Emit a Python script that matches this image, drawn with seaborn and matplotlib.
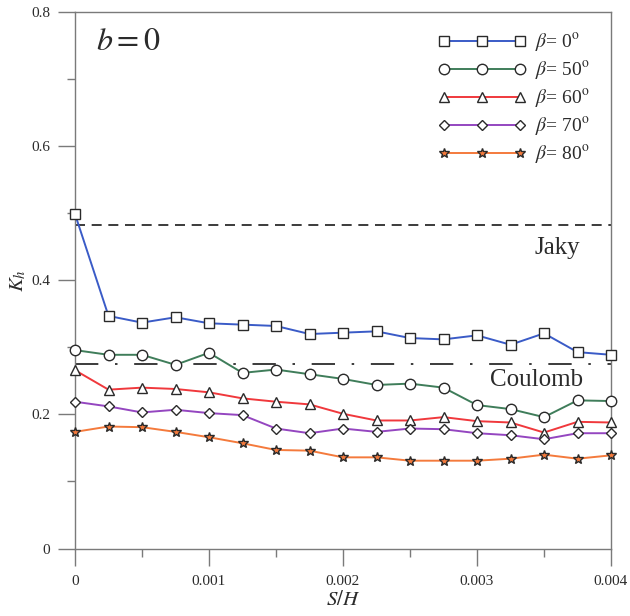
import numpy as np
import pandas as pd
import matplotlib
matplotlib.use("Agg")
import matplotlib.pyplot as plt
from matplotlib.ticker import FixedLocator, MultipleLocator
import seaborn as sns

# Normalised displacement S/H
s_over_h = [0, 0.00025, 0.0005, 0.00075, 0.001, 0.00125, 0.0015, 0.00175, 0.002,
            0.00225, 0.0025, 0.00275, 0.003, 0.00325, 0.0035, 0.00375, 0.004]

# Lateral earth pressure coefficient K_h for each wall inclination beta
kh_beta0 = [0.499, 0.347, 0.337, 0.345, 0.336, 0.334, 0.332, 0.320, 0.322,
            0.324, 0.314, 0.312, 0.318, 0.304, 0.321, 0.293, 0.289]
kh_beta50 = [0.296, 0.289, 0.289, 0.274, 0.292, 0.262, 0.267, 0.260, 0.253,
             0.244, 0.246, 0.240, 0.214, 0.208, 0.196, 0.221, 0.220]
kh_beta60 = [0.266, 0.237, 0.240, 0.238, 0.233, 0.224, 0.219, 0.215, 0.201,
             0.191, 0.191, 0.196, 0.190, 0.188, 0.173, 0.189, 0.188]
kh_beta70 = [0.219, 0.212, 0.203, 0.207, 0.202, 0.199, 0.179, 0.172, 0.179,
             0.174, 0.179, 0.178, 0.172, 0.169, 0.163, 0.172, 0.172]
kh_beta80 = [0.174, 0.182, 0.181, 0.174, 0.166, 0.157, 0.147, 0.146, 0.136,
             0.136, 0.131, 0.131, 0.131, 0.134, 0.140, 0.134, 0.139]

series_labels = [r'$\beta$= 0$^{\mathrm{o}}$', r'$\beta$= 50$^{\mathrm{o}}$',
                 r'$\beta$= 60$^{\mathrm{o}}$', r'$\beta$= 70$^{\mathrm{o}}$',
                 r'$\beta$= 80$^{\mathrm{o}}$']
series_values = [kh_beta0, kh_beta50, kh_beta60, kh_beta70, kh_beta80]

# Reference coefficients
k_jaky = 0.482
k_coulomb = 0.275

x_ticks = [0, 0.001, 0.002, 0.003, 0.004]
x_tick_labels = ['0', '0.001', '0.002', '0.003', '0.004']
y_ticks = [0, 0.2, 0.4, 0.6, 0.8]
y_tick_labels = ['0', '0.2', '0.4', '0.6', '0.8']

sns.set_theme(style="white")
plt.rcParams['font.family'] = ['Liberation Serif', 'DejaVu Serif']
plt.rcParams['mathtext.fontset'] = 'stix'

text_color = '#2b2b2b'
spine_color = '#7a7a7a'

colors = ['#3a5bc7', '#3f7d5a', '#f0383c', '#9446c0', '#f47a3c']
markers = ['s', 'o', '^', 'D', '*']
msizes = [7, 7.5, 6.5, 5.5, 7]

fig = plt.figure(figsize=(6.3, 6.16), dpi=100)
ax = fig.add_axes([75 / 630, 1 - 548.5 / 616, (611 - 75) / 630, (548.5 - 12.3) / 616])

for lab, vals, c, m, ms in zip(series_labels, series_values, colors, markers, msizes):
    df = pd.DataFrame({'S/H': s_over_h, 'Kh': vals})
    face = c if m == '*' else 'white'
    sns.lineplot(data=df, x='S/H', y='Kh', ax=ax, color=c, lw=1.4, marker=m,
                 markersize=ms, markerfacecolor=face, markeredgecolor='#2a2a2a',
                 markeredgewidth=1.0, label=lab, clip_on=False, zorder=3)

ax.plot([0, 0.004], [k_jaky, k_jaky], color='#1a1a1a', lw=1.2,
        dashes=(6, 4), zorder=2)
ax.plot([0, 0.004], [k_coulomb, k_coulomb], color='#1a1a1a', lw=1.2,
        dashes=(14, 10, 1.5, 10), zorder=2)

ax.text(0.00343, 0.448, 'Jaky', fontsize=18, color=text_color, ha='left', va='center')
ax.text(0.0031, 0.251, 'Coulomb', fontsize=18, color=text_color, ha='left', va='center')
ax.text(0.00016, 0.755, r'$b = 0$', fontsize=23, color=text_color, ha='left', va='center')

ax.set_xlim(0, 0.004)
ax.set_ylim(0, 0.8)
ax.xaxis.set_major_locator(FixedLocator(x_ticks))
ax.set_xticklabels(x_tick_labels)
ax.xaxis.set_minor_locator(MultipleLocator(0.0005))
ax.yaxis.set_major_locator(FixedLocator(y_ticks))
ax.set_yticklabels(y_tick_labels)
ax.yaxis.set_minor_locator(MultipleLocator(0.1))

ax.tick_params(axis='both', which='major', direction='out', length=12, width=1.0,
               color=spine_color, labelsize=11, labelcolor=text_color,
               bottom=True, left=True, top=False, right=False)
ax.tick_params(axis='x', which='major', pad=7)
ax.tick_params(axis='y', which='major', pad=6)
ax.tick_params(axis='both', which='minor', direction='out', length=5.5, width=1.0,
               color=spine_color, bottom=True, left=True, top=False, right=False)

for sp in ax.spines.values():
    sp.set_color(spine_color)
    sp.set_linewidth(1.0)
    sp.set_visible(True)

ax.set_xlabel(r'$S/H$', fontsize=15, color=text_color, labelpad=2)
ax.set_ylabel(r'$K_h$', fontsize=15, color=text_color, labelpad=2)

leg = ax.legend(loc='upper left', bbox_to_anchor=(438 / 630, 1 - 32 / 616),
                bbox_transform=fig.transFigure, frameon=False, fontsize=14,
                handlelength=4.5, handletextpad=0.5, labelspacing=0.28,
                borderpad=0, borderaxespad=0, numpoints=3)
for t in leg.get_texts():
    t.set_color(text_color)

fig.savefig('out.png', dpi=100)
